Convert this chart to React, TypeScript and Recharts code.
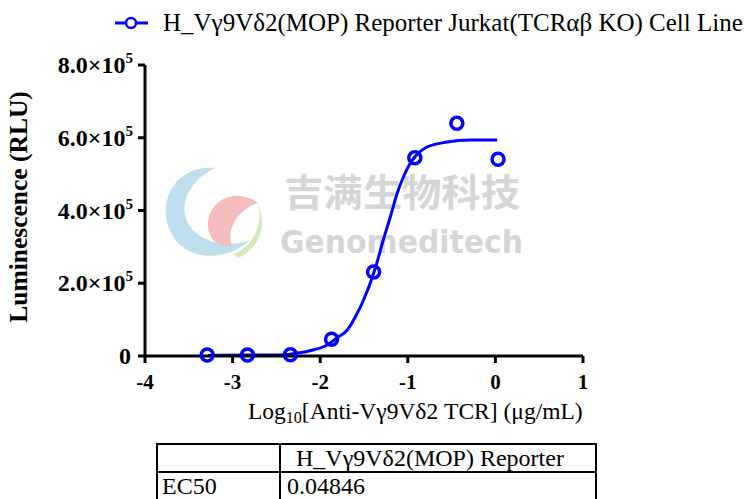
import {
  ComposedChart,
  Legend,
  Line,
  Scatter,
  XAxis,
  YAxis,
} from 'recharts'

// measured points (log10 dose, RLU)
const logDose = [-3.29, -2.83, -2.34, -1.87, -1.39, -0.92, -0.44, 0.03]
const luminescence = [3000, 3000, 3500, 46000, 231000, 545000, 640000, 541000]

// fitted curve as drawn in the figure
const fitLogDose = [
  -3.28, -2.8, -2.46, -2.23, -2.08, -1.92, -1.81, -1.69, -1.6, -1.52, -1.37,
  -1.28, -1.2, -1.12, -1.05, -0.97, -0.92, -0.78, -0.55, -0.29, 0.02,
]
const fitLuminescence = [
  1400, 2700, 2700, 9100, 16500, 30200, 49500, 71500, 107200, 145700, 241900,
  318900, 382100, 448100, 492100, 530600, 547100, 574600, 588300, 593800,
  593500,
]

const xTicks = [-4, -3, -2, -1, 0, 1]
const yTicks = [0, 200000, 400000, 600000, 800000]

const seriesName = 'H_Vγ9Vδ2(MOP) Reporter Jurkat(TCRαβ KO) Cell Line'
const tableHeader = 'H_Vγ9Vδ2(MOP) Reporter'
const ec50Label = 'EC50'
const ec50Value = '0.04846'

const BLUE = '#0000ff'
const FONT = '"Liberation Serif", "Times New Roman", serif'

const points = logDose.map((x, i) => ({ x, y: luminescence[i] }))
const curve = fitLogDose.map((x, i) => ({ x, y: fitLuminescence[i] }))

function YTick({ x, y, payload }: any) {
  const v = payload.value as number
  if (v === 0) {
    return (
      <text x={x - 5} y={y + 8} textAnchor="end" fontFamily={FONT} fontWeight="bold" fontSize={24} fill="#000">
        0
      </text>
    )
  }
  const mant = (v / 100000).toFixed(1)
  return (
    <text x={x - 3} y={y + 8} textAnchor="end" fontFamily={FONT} fontWeight="bold" fontSize={24} fill="#000">
      {mant}×10
      <tspan fontSize={15} dy={-10}>5</tspan>
    </text>
  )
}

function XTick({ x, y, payload }: any) {
  return (
    <text x={x} y={y + 24} textAnchor="middle" fontFamily={FONT} fontWeight="bold" fontSize={21} fill="#000">
      {payload.value}
    </text>
  )
}

function LegendContent() {
  return (
    <svg width={745} height={40} style={{ display: 'block' }}>
      <line x1={115} y1={23} x2={148} y2={23} stroke={BLUE} strokeWidth={3} />
      <circle cx={131} cy={23} r={5} fill="#fff" stroke={BLUE} strokeWidth={2.5} />
      <text x={163} y={31} fontFamily={FONT} fontSize={25} fill="#000">
        {seriesName}
      </text>
    </svg>
  )
}

function Watermark() {
  return (
    <svg width={745} height={499} style={{ position: 'absolute', left: 0, top: 0 }}>
      <path d="M215 168 C170 163 150 215 180 245 C200 262 230 258 250 240 C225 250 190 240 185 215 C182 195 195 178 215 168 Z" fill="#bfdfec" />
      <path d="M258 203 C238 188 208 198 208 225 C208 240 220 248 232 246 C226 232 236 210 258 203 Z" fill="#f3bdbd" />
      <path d="M258 203 C264 225 252 247 234 254 L238 258 C258 250 268 226 258 203 Z" fill="#d3e8bd" />
      <text x={284} y={206} fontFamily='"Noto Sans CJK SC", sans-serif' fontWeight="bold" fontSize={38} fill="#d6d6d6" textLength={236} lengthAdjust="spacingAndGlyphs">
        吉满生物科技
      </text>
      <text x={280} y={253} fontFamily='"DejaVu Sans", sans-serif' fontWeight="bold" fontSize={32} fill="#d6d6d6" textLength={243} lengthAdjust="spacingAndGlyphs">
        Genomeditech
      </text>
    </svg>
  )
}

export default function App() {
  return (
    <div style={{ position: 'absolute', left: 0, top: 0, width: 745, height: 499, background: '#fff', overflow: 'hidden' }}>
      <Watermark />
      <div style={{ position: 'absolute', left: 0, top: 0 }}>
        <ComposedChart
          width={745}
          height={499}
          margin={{ top: 25, right: 162, bottom: 113, left: 45 }}
          style={{ background: 'transparent' }}
        >
          <Legend
            verticalAlign="top"
            content={<LegendContent />}
            wrapperStyle={{ top: 0, left: 0, width: 745, height: 40 }}
          />
          <XAxis
            dataKey="x"
            type="number"
            domain={[-4, 1]}
            ticks={xTicks}
            allowDataOverflow
            height={30}
            axisLine={{ stroke: '#000', strokeWidth: 3 }}
            tickLine={{ stroke: '#000', strokeWidth: 3 }}
            tickSize={7}
            tick={<XTick />}
            label={() => (
              <text x={248} y={419} fontFamily={FONT} fontSize={23.5} fill="#000">
                Log
                <tspan fontSize={16} dy={4}>10</tspan>
                <tspan dy={-4}>[Anti-Vγ9Vδ2 TCR] (μg/mL)</tspan>
              </text>
            )}
          />
          <YAxis
            dataKey="y"
            type="number"
            domain={[0, 800000]}
            ticks={yTicks}
            width={100}
            axisLine={{ stroke: '#000', strokeWidth: 3 }}
            tickLine={{ stroke: '#000', strokeWidth: 3 }}
            tickSize={7}
            tick={<YTick />}
            label={() => (
              <text
                x={0}
                y={0}
                transform="translate(27, 207) rotate(-90)"
                textAnchor="middle"
                fontFamily={FONT}
                fontWeight="bold"
                fontSize={25.5}
                fill="#000"
              >
                Luminescence (RLU)
              </text>
            )}
          />
          <Line
            data={curve}
            dataKey="y"
            type="monotone"
            stroke={BLUE}
            strokeWidth={3}
            dot={false}
            activeDot={false}
            isAnimationActive={false}
            legendType="none"
          />
          <Scatter
            data={points}
            dataKey="y"
            name={seriesName}
            isAnimationActive={false}
            shape={(p: any) => (
              <circle cx={p.cx} cy={p.cy} r={6} fill="none" stroke={BLUE} strokeWidth={3.5} />
            )}
          />
        </ComposedChart>
      </div>
      <table
        style={{
          position: 'absolute',
          left: 156,
          top: 443,
          width: 441,
          borderCollapse: 'collapse',
          fontFamily: FONT,
          fontSize: 24,
          color: '#000',
        }}
      >
        <tbody>
          <tr style={{ height: 28 }}>
            <td style={{ border: '2px solid #000', width: 113, padding: '0 4px' }}></td>
            <td style={{ border: '2px solid #000', padding: '0 0 0 15px', lineHeight: '24px' }}>{tableHeader}</td>
          </tr>
          <tr style={{ height: 28 }}>
            <td style={{ border: '2px solid #000', padding: '0 4px', lineHeight: '24px' }}>{ec50Label}</td>
            <td style={{ border: '2px solid #000', padding: '0 0 0 6px', lineHeight: '24px' }}>{ec50Value}</td>
          </tr>
        </tbody>
      </table>
    </div>
  )
}
